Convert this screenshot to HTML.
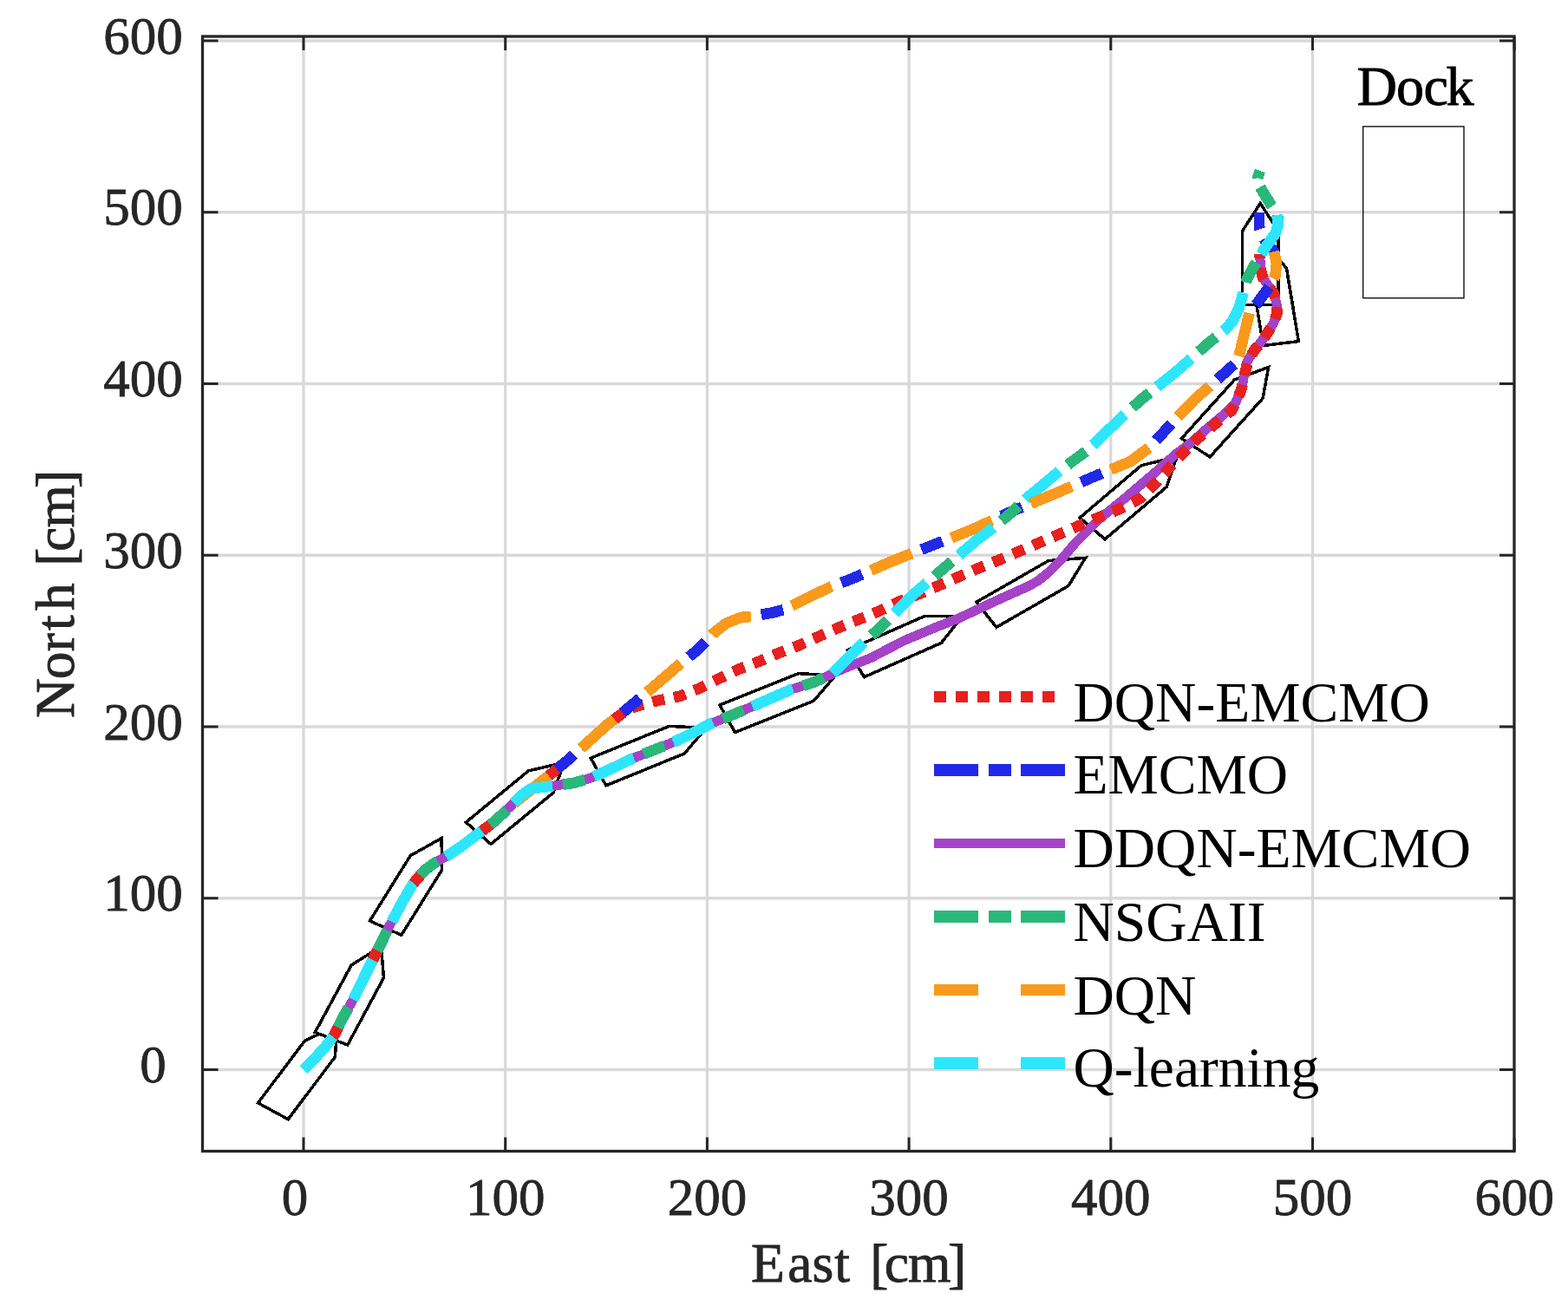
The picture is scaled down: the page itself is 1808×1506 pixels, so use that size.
<!DOCTYPE html>
<html><head><meta charset="utf-8"><title>Trajectories</title>
<style>html,body{margin:0;padding:0;background:#fff;}svg{display:block;}</style>
</head><body>
<svg width="1808" height="1506" viewBox="0 0 1808 1506">
<rect width="1808" height="1506" fill="#ffffff"/>
<style>polyline,polygon,line{shape-rendering:crispEdges}</style>
<path d="M350.00 42.0V1327.5M582.70 42.0V1327.5M815.40 42.0V1327.5M1048.10 42.0V1327.5M1280.80 42.0V1327.5M1513.50 42.0V1327.5M233.5 1233.50H1746.0M233.5 1035.75H1746.0M233.5 838.00H1746.0M233.5 640.25H1746.0M233.5 442.50H1746.0M233.5 244.75H1746.0M233.5 47.00H1746.0" stroke="#d9d9d9" stroke-width="3.3" fill="none"/>
<rect x="1571.7" y="145.9" width="116.3" height="197.8" fill="none" stroke="#000" stroke-width="1.3"/>
<polygon points="332.2,1290.7 386.3,1218.9 389.1,1182.6 351.6,1200.0 297.5,1271.8" fill="#fff" stroke="#000" stroke-width="3.5" stroke-linejoin="miter"/>
<polygon points="400.8,1205.0 442.5,1127.5 439.4,1091.3 405.1,1113.0 363.3,1190.4" fill="#fff" stroke="#000" stroke-width="3.5" stroke-linejoin="miter"/>
<polygon points="462.8,1078.3 509.7,1002.9 509.1,966.6 473.3,986.6 426.4,1061.9" fill="#fff" stroke="#000" stroke-width="3.5" stroke-linejoin="miter"/>
<polygon points="566.0,973.4 638.0,914.1 650.5,879.3 609.3,888.9 537.3,948.2" fill="#fff" stroke="#000" stroke-width="3.5" stroke-linejoin="miter"/>
<polygon points="698.9,905.8 789.3,868.9 814.2,839.4 771.5,837.4 681.1,874.2" fill="#fff" stroke="#000" stroke-width="3.5" stroke-linejoin="miter"/>
<polygon points="847.5,844.5 938.2,808.3 963.4,778.9 920.7,776.6 829.9,812.9" fill="#fff" stroke="#000" stroke-width="3.5" stroke-linejoin="miter"/>
<polygon points="996.5,780.7 1085.5,741.3 1109.2,711.1 1066.5,710.3 977.5,749.6" fill="#fff" stroke="#000" stroke-width="3.5" stroke-linejoin="miter"/>
<polygon points="1148.9,723.3 1232.0,675.6 1251.6,643.3 1209.0,646.6 1125.8,694.3" fill="#fff" stroke="#000" stroke-width="3.5" stroke-linejoin="miter"/>
<polygon points="1274.1,621.8 1345.0,561.6 1357.0,526.7 1315.9,536.8 1245.0,597.1" fill="#fff" stroke="#000" stroke-width="3.5" stroke-linejoin="miter"/>
<polygon points="1395.1,526.9 1456.1,459.3 1462.6,423.4 1423.4,438.0 1362.4,505.6" fill="#fff" stroke="#000" stroke-width="3.5" stroke-linejoin="miter"/>
<polygon points="1497.4,393.6 1483.4,309.2 1457.8,280.1 1442.7,314.1 1456.6,398.5" fill="#fff" stroke="#000" stroke-width="3.5" stroke-linejoin="miter"/>
<polygon points="1473.8,351.5 1473.8,266.3 1453.2,234.5 1432.6,266.3 1432.6,351.5" fill="#fff" stroke="#000" stroke-width="3.5" stroke-linejoin="miter"/>
<polyline points="350.0,1233.5 361.8,1221.7 375.0,1207.1 385.2,1194.0 395.4,1173.5 407.1,1153.0 413.5,1140.0 429.4,1107.6 440.6,1085.3 448.5,1068.6 456.0,1055.0 463.9,1040.0 475.9,1019.7 489.8,1003.1 504.4,993.1 516.4,986.5 533.0,975.2 549.6,962.6 566.2,950.6 577.0,941.0 588.3,930.0 600.0,918.0 612.1,909.4 638.7,906.1 661.9,902.8 680.7,897.3 700.6,888.4 728.3,875.1 755.9,864.1 778.0,855.2 790.0,849.5 820.0,834.3 843.2,825.0 866.5,815.0 889.7,804.9 912.9,794.8 921.7,792.2 938.7,786.6 958.9,777.3 972.7,771.0 1003.7,758.9 1042.4,738.7 1081.2,722.5 1105.0,713.2 1153.7,690.4 1184.7,676.5 1196.3,670.3 1207.9,661.0 1223.4,645.5 1240.0,626.0 1268.2,598.0 1298.8,573.1 1329.3,547.1 1356.0,523.5 1371.9,511.7 1390.7,495.1 1410.6,478.5 1425.0,464.2 1432.7,443.1 1437.1,418.8 1440.0,413.6 1446.7,403.4 1455.0,393.0 1462.0,383.2 1468.3,372.9 1472.3,361.9 1472.0,350.0 1469.0,339.0 1462.0,329.0 1456.0,320.0 1453.5,310.0 1453.0,300.0 1452.7,293.0" fill="none" stroke="#a443c8" stroke-width="11" stroke-linejoin="round"/>
<polyline points="350.0,1233.5 361.8,1221.7 375.0,1207.1 385.2,1194.0 395.4,1173.5 407.1,1153.0 413.5,1140.0 429.4,1107.6 440.6,1085.3 448.5,1068.6 456.0,1055.0 463.9,1040.0 475.9,1019.7 489.8,1003.1 504.4,993.1 516.4,986.5 533.0,975.2 549.6,962.6 566.2,950.6 577.0,941.0 588.3,930.0 600.0,920.5 637.6,890.6 656.4,875.1 700.6,835.3 712.6,826.3 724.0,818.0 736.2,813.7 759.1,807.7 783.8,802.9 806.5,793.8 828.6,782.8 851.8,771.7 875.0,762.9 898.3,752.9 921.5,744.1 943.6,734.1 966.6,723.9 989.8,714.5 1013.0,705.0 1036.3,694.0 1059.5,685.0 1082.7,675.2 1104.9,665.3 1128.1,655.3 1151.1,646.1 1174.3,636.2 1197.5,626.2 1220.8,616.2 1243.6,606.5 1266.4,596.8 1289.5,587.5 1305.0,580.0 1316.0,574.0 1330.4,559.5 1347.2,540.8 1364.1,522.2 1381.8,505.1 1401.7,488.5 1420.5,473.0 1431.0,450.3 1436.8,425.0 1440.0,414.0 1446.7,403.4 1455.0,393.0 1462.0,383.2 1468.3,372.9 1472.3,361.9 1472.0,350.0 1469.0,339.0 1462.0,329.0 1456.0,320.0 1453.5,310.0 1453.0,300.0 1452.7,293.0" fill="none" stroke="#e6211f" stroke-width="12.7" stroke-linejoin="round" stroke-dasharray="14 11"/>
<polyline points="588.3,930.0 600.0,920.5 637.6,890.6 656.4,875.1 700.6,835.3 717.6,822.1 737.2,805.7 746.6,797.9 784.8,765.0 804.2,749.6 822.0,730.8 837.4,718.6 854.0,712.0 866.2,710.9 890.5,706.5 903.8,703.1 914.9,697.6 937.0,686.5 958.0,676.6 983.2,667.0 1027.4,647.6 1075.0,628.8 1121.5,610.5 1141.0,601.5 1166.5,589.7 1215.2,569.8 1259.5,550.4 1303.7,532.0 1326.5,515.0 1343.1,496.8 1377.0,461.0 1405.0,436.5 1426.0,417.5 1430.0,405.0 1435.0,384.0 1441.0,359.3 1449.5,349.8 1464.7,329.4 1470.5,318.0 1472.0,304.0 1469.0,290.0 1461.0,281.0 1455.0,271.0 1452.0,262.0 1452.0,245.0" fill="none" stroke="#2129e6" stroke-width="12.7" stroke-linejoin="round" stroke-dasharray="51 12 26 11" stroke-dashoffset="394.2"/>
<polyline points="350.0,1233.5 361.8,1221.7 375.0,1207.1 385.2,1194.0 395.4,1173.5 407.1,1153.0 413.5,1140.0 429.4,1107.6 440.6,1085.3 448.5,1068.6 456.0,1055.0 463.9,1040.0 475.9,1019.7 489.8,1003.1 504.4,993.1 516.4,986.5 533.0,975.2 549.6,962.6 566.2,950.6 577.0,941.0 588.3,930.0 600.0,918.0 612.1,909.4 638.7,906.1 661.9,902.8 680.7,897.3 700.6,888.4 728.3,875.1 755.9,864.1 778.0,855.2 790.0,849.5 820.0,834.3 843.2,825.0 866.5,815.0 889.7,804.9 912.9,794.8 921.7,792.2 938.7,786.6 958.9,777.3 977.4,758.7 996.0,740.1 1011.5,727.0 1049.6,688.5 1088.3,655.3 1127.0,622.1 1149.1,605.5 1166.5,590.8 1184.2,574.2 1224.1,541.0 1252.8,520.0 1297.4,477.3 1317.3,459.6 1356.1,428.6 1393.7,395.4 1413.3,379.6 1421.3,370.0 1428.5,355.7 1434.0,336.0 1438.0,321.4 1449.2,300.7 1460.0,284.0 1471.0,268.5 1474.0,258.0 1473.0,247.0 1464.8,235.3 1451.0,212.4 1450.0,205.0 1453.0,197.0" fill="none" stroke="#2ab87a" stroke-width="12.7" stroke-linejoin="round" stroke-dasharray="51 12 26 11"/>
<polyline points="588.3,930.0 600.0,920.5 637.6,890.6 656.4,875.1 700.6,835.3 717.6,822.1 737.2,805.7 746.6,797.9 784.8,765.0 804.2,749.6 822.0,730.8 837.4,718.6 854.0,712.0 866.2,710.9 890.5,706.5 903.8,703.1 914.9,697.6 937.0,686.5 958.0,676.6 983.2,667.0 1027.4,647.6 1075.0,628.8 1121.5,610.5 1141.0,601.5 1166.5,589.7" fill="none" stroke="#f99a1c" stroke-width="12.7" stroke-linejoin="round" stroke-dasharray="51 49" stroke-dashoffset="394.2"/>
<polyline points="350.0,1233.5 361.8,1221.7 375.0,1207.1 385.2,1194.0 395.4,1173.5 407.1,1153.0 413.5,1140.0 429.4,1107.6 440.6,1085.3 448.5,1068.6 456.0,1055.0 463.9,1040.0 475.9,1019.7 489.8,1003.1 504.4,993.1 516.4,986.5 533.0,975.2 549.6,962.6 566.2,950.6 577.0,941.0 588.3,930.0 600.0,918.0 612.1,909.4 638.7,906.1 661.9,902.8 680.7,897.3 700.6,888.4 728.3,875.1 755.9,864.1 778.0,855.2 790.0,849.5 820.0,834.3 843.2,825.0 866.5,815.0 889.7,804.9 912.9,794.8 921.7,792.2 938.7,786.6 958.9,777.3 977.4,758.7 996.0,740.1 1011.5,727.0 1049.6,688.5 1088.3,655.3 1127.0,622.1 1149.1,605.5 1166.5,590.8 1184.2,574.2 1224.1,541.0 1252.8,520.0 1297.4,477.3 1317.3,459.6 1356.1,428.6 1393.7,395.4 1413.3,379.6 1421.3,370.0 1428.5,355.7 1434.0,336.0 1438.0,321.4 1449.2,300.7 1460.0,284.0 1471.0,268.5 1474.0,258.0 1471.5,244.0" fill="none" stroke="#2ee6fc" stroke-width="12.7" stroke-linejoin="round" stroke-dasharray="51 49"/>
<polyline points="1166.5,589.7 1215.2,569.8 1259.5,550.4 1303.7,532.0 1326.5,515.0 1343.1,496.8 1377.0,461.0 1405.0,436.5 1426.0,417.5 1430.0,405.0 1435.0,384.0 1441.0,359.3 1449.5,349.8 1464.7,329.4 1470.5,318.0 1472.0,304.0 1469.0,290.0" fill="none" stroke="#f99a1c" stroke-width="12.7" stroke-linejoin="round" stroke-dasharray="51 49" stroke-dashoffset="1076.0"/>
<rect x="233.5" y="42.0" width="1512.5" height="1285.5" fill="none" stroke="#262626" stroke-width="3.3"/>
<path d="M350.00 1327.5v-16M350.00 42.0v16M582.70 1327.5v-16M582.70 42.0v16M815.40 1327.5v-16M815.40 42.0v16M1048.10 1327.5v-16M1048.10 42.0v16M1280.80 1327.5v-16M1280.80 42.0v16M1513.50 1327.5v-16M1513.50 42.0v16M1746.20 1327.5v-16M1746.20 42.0v16M233.5 1233.50h18M1746.0 1233.50h-17M233.5 1035.75h18M1746.0 1035.75h-17M233.5 838.00h18M1746.0 838.00h-17M233.5 640.25h18M1746.0 640.25h-17M233.5 442.50h18M1746.0 442.50h-17M233.5 244.75h18M1746.0 244.75h-17M233.5 47.00h18M1746.0 47.00h-17" stroke="#262626" stroke-width="3" fill="none"/>
<g font-family="Liberation Serif, serif" font-size="61" fill="#262626" stroke="#262626" stroke-width="0.8">
<text x="191.7" y="1248.1" text-anchor="end">0</text>
<text x="210.8" y="1050.3" text-anchor="end">100</text>
<text x="210.8" y="852.6" text-anchor="end">200</text>
<text x="210.8" y="654.9" text-anchor="end">300</text>
<text x="210.8" y="457.1" text-anchor="end">400</text>
<text x="210.8" y="259.4" text-anchor="end">500</text>
<text x="210.8" y="61.6" text-anchor="end">600</text>
<text x="340.0" y="1401" text-anchor="middle">0</text>
<text x="582.7" y="1401" text-anchor="middle">100</text>
<text x="815.4" y="1401" text-anchor="middle">200</text>
<text x="1048.1" y="1401" text-anchor="middle">300</text>
<text x="1280.8" y="1401" text-anchor="middle">400</text>
<text x="1513.5" y="1401" text-anchor="middle">500</text>
<text x="1746.2" y="1401" text-anchor="middle">600</text>
</g>
<text x="866.0 908.3 936.4 962.2 979.8 1003.2 1019.7 1047.0 1093.1" y="1477.8" font-family="Liberation Serif, serif" font-size="63.5" fill="#262626" stroke="#262626" stroke-width="0.9">East [cm]</text>
<text transform="rotate(-90)" x="-828.1 -783.2 -751.2 -726.9 -704.1 -672.4 -652.7 -636.1 -608.4 -562.9" y="84.9" font-family="Liberation Serif, serif" font-size="63.5" fill="#262626" stroke="#262626" stroke-width="0.9">North [cm]</text>
<text x="1564.8 1610.1 1641.5 1667.4" y="120.8" font-family="Liberation Serif, serif" font-size="64" fill="#000" stroke="#000" stroke-width="0.9">Dock</text>
<line x1="1077" y1="803.4" x2="1216" y2="803.4" stroke="#e6211f" stroke-width="12.8" stroke-dasharray="14 11"/>
<text x="1237.5" y="832.0" font-family="Liberation Serif, serif" font-size="65.5" fill="#000">DQN-EMCMO</text>
<line x1="1077" y1="887.9" x2="1228" y2="887.9" stroke="#2129e6" stroke-width="13.6" stroke-dasharray="51 12 26 11"/>
<text x="1237.5" y="914.8" font-family="Liberation Serif, serif" font-size="65.5" fill="#000">EMCMO</text>
<line x1="1077" y1="972.4" x2="1228" y2="972.4" stroke="#a443c8" stroke-width="10.8"/>
<text x="1237.5" y="999.9" font-family="Liberation Serif, serif" font-size="65.5" fill="#000">DDQN-EMCMO</text>
<line x1="1077" y1="1057.0" x2="1228" y2="1057.0" stroke="#2ab87a" stroke-width="13.7" stroke-dasharray="51 12 26 11"/>
<text x="1237.5" y="1085.1" font-family="Liberation Serif, serif" font-size="65.5" fill="#000">NSGAII</text>
<line x1="1077" y1="1141.4" x2="1228" y2="1141.4" stroke="#f99a1c" stroke-width="12.8" stroke-dasharray="51 49"/>
<text x="1237.5" y="1170.1" font-family="Liberation Serif, serif" font-size="65.5" fill="#000">DQN</text>
<line x1="1077" y1="1226.0" x2="1228" y2="1226.0" stroke="#2ee6fc" stroke-width="13.9" stroke-dasharray="51 49"/>
<text x="1237.5" y="1253.2" font-family="Liberation Serif, serif" font-size="65.5" fill="#000">Q-learning</text>
</svg>
</body></html>
